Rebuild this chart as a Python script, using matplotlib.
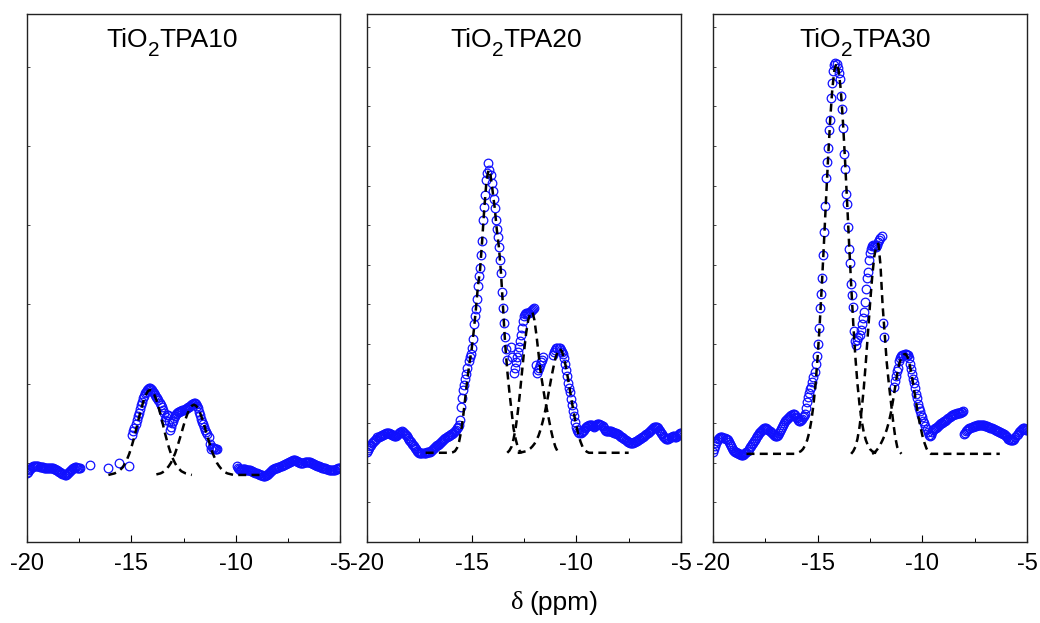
import numpy as np
import matplotlib
matplotlib.use("Agg")
import matplotlib.pyplot as plt
from matplotlib.transforms import blended_transform_factory, offset_copy

plt.rcParams["font.family"] = ["Liberation Sans", "DejaVu Sans"]

N = np.nan

# ---------------- data: chemical shift grid ----------------
shift_start = -20.0
shift_step = 0.05
fit_step = 0.1

title_parts = [("TiO", "2", "TPA10"), ("TiO", "2", "TPA20"), ("TiO", "2", "TPA30")]
xticks = [-20, -15, -10, -5]
xlabel_delta = "δ"
xlabel_unit = "(ppm)"

# measured spectra (a.u.), one value every 0.05 ppm from -20 to -5
tpa10 = [
    13.0, 13.3, 13.6, 13.9, 14.1, 14.2, 14.3, 14.3, 14.3, 14.3, 14.3, 14.3, 14.2, 14.2, 14.2, 14.2, 14.1, 14.1, 14.1, 14.1,
    14.1, 14.1, 14.0, 14.0, 14.0, 14.0, 13.9, 13.8, 13.7, 13.6, 13.5, 13.3, 13.2, 13.0, 12.9, 12.8, 12.7, 12.7, 12.8, 13.0,
    13.2, 13.4, 13.6, 13.8, 14.0, 14.1, 14.2, 14.2, 14.1, 14.0, 14.0, 14.0, N, N, N, N, N, N, N, N,
    14.6, N, N, N, N, N, N, N, N, N, N, N, N, N, N, N, N, N, 14.0, N,
    N, N, N, N, N, N, N, N, 15.0, N, N, N, N, N, N, N, N, N, 14.3, N,
    N, 20.3, 21.0, 21.5, 22.3, 23.1, 23.8, 24.5, 25.2, 25.9, 26.6, 27.2, 27.7, 28.2, 28.5, 28.8, 29.0, 29.1, 29.1, 28.9,
    28.7, 28.5, 28.2, 27.9, 27.5, 27.2, 26.8, 26.4, 26.0, 25.5, 25.0, 24.5, 23.1, 23.6, 24.0, 24.1, 23.0, 21.2, 21.8, 22.5,
    23.0, 23.5, 23.8, 24.2, 24.5, 24.6, 24.7, 24.8, 24.9, 25.0, 25.0, 25.1, 25.2, 25.3, 25.5, 25.6, 25.8, 25.9, 26.1, 26.2,
    26.3, 26.3, 26.1, 25.8, 25.3, 24.7, 24.0, 23.3, 22.8, 22.3, 21.8, 21.3, 20.9, 20.4, 19.8, 18.5, 17.7, 17.9, 17.8, 17.8,
    17.7, 17.7, 17.6, N, N, N, N, N, N, N, N, N, N, N, N, N, N, N, N, N,
    N, 14.4, 14.1, 13.9, 13.7, 13.7, 13.8, 13.9, 13.9, 13.8, 13.7, 13.7, 13.6, 13.6, 13.6, 13.5, 13.4, 13.3, 13.2, 13.1,
    13.0, 12.9, 12.8, 12.7, 12.6, 12.6, 12.5, 12.5, 12.5, 12.6, 12.7, 12.9, 13.1, 13.3, 13.5, 13.7, 13.8, 13.9, 14.0, 14.1,
    14.1, 14.2, 14.2, 14.3, 14.4, 14.5, 14.6, 14.7, 14.8, 14.9, 15.0, 15.1, 15.2, 15.3, 15.4, 15.5, 15.5, 15.5, 15.4, 15.3,
    15.2, 15.1, 15.0, 14.9, 14.9, 15.0, 15.1, 15.2, 15.2, 15.2, 15.1, 15.1, 15.0, 14.9, 14.8, 14.7, 14.6, 14.5, 14.4, 14.3,
    14.3, 14.2, 14.2, 14.1, 14.1, 14.0, 14.0, 13.9, 13.8, 13.7, 13.7, 13.6, 13.6, 13.6, 13.6, 13.7, 13.8, 13.9, 14.0, 14.0, 14.0,
]

tpa20 = [
    17.1, 17.4, 17.8, 18.1, 18.4, 18.7, 19.0, 19.2, 19.4, 19.6, 19.8, 19.9, 20.0, 20.1, 20.2, 20.3, 20.4, 20.5, 20.6, 20.6,
    20.6, 20.6, 20.5, 20.4, 20.3, 20.2, 20.1, 20.0, 20.1, 20.3, 20.5, 20.7, 20.9, 21.0, 20.9, 20.7, 20.5, 20.2, 20.0, 19.7,
    19.4, 19.1, 18.9, 18.6, 18.4, 18.1, 17.8, 17.6, 17.3, 17.1, 16.9, 16.8, 16.8, 16.8, 16.8, 16.9, 16.9, 17.0, 17.0, 17.1,
    17.1, 17.3, 17.5, 17.6, 17.8, 17.9, 18.1, 18.3, 18.4, 18.6, 18.8, 19.0, 19.2, 19.4, 19.5, 19.7, 19.8, 20.0, 20.1, 20.2,
    20.4, 20.5, 20.6, 20.8, 21.0, 21.2, 21.5, 21.8, 22.2, 23.2, 25.5, 27.2, 28.8, 29.8, 30.8, 31.8, 33.0, 34.2, 35.0, 35.7,
    36.8, 38.5, 41.2, 42.8, 44.2, 46.0, 48.5, 50.3, 51.8, 54.4, 57.0, 61.0, 63.5, 65.8, 68.6, 69.8, 71.8, 70.5, 69.5, 67.9,
    66.5, 65.0, 63.3, 61.0, 59.2, 57.8, 55.9, 53.5, 51.0, 47.3, 44.3, 41.5, 38.8, 36.5, 34.5, N, N, N, 37.0, 35.0,
    32.0, 33.0, 34.0, 35.0, 36.0, 37.0, 38.0, 39.2, 40.6, 41.8, 42.8, 43.2, 43.3, 43.3, 43.3, 43.4, 43.5, 43.7, 43.9, 44.2,
    44.4, 33.5, 32.0, 32.5, 33.0, 33.5, 34.0, 34.5, 35.1, N, N, N, N, N, N, N, N, N, 35.4, 35.9,
    36.4, 36.7, 36.8, 36.8, 36.7, 36.4, 36.0, 35.6, 34.8, 33.8, 32.6, 31.4, 30.2, 29.2, 28.4, 27.0, 26.0, 24.8, 23.8, 22.8,
    21.8, 21.2, 20.8, 20.6, 20.7, 20.9, 21.1, 21.3, 21.5, 21.7, 21.9, 22.0, 22.1, 22.2, 22.2, 22.1, 21.9, 21.8, 21.9, 22.1,
    22.3, 22.4, 22.3, 22.2, 22.1, 21.9, 21.6, 21.3, 21.1, 21.0, 21.0, 21.0, 21.1, 21.0, 20.9, 20.8, 20.7, 20.6, 20.6, 20.5,
    20.4, 20.3, 20.1, 19.9, 19.8, 19.7, 19.6, 19.4, 19.2, 19.0, 18.9, 18.8, 18.7, 18.7, 18.8, 18.9, 19.0, 19.1, 19.2, 19.3,
    19.5, 19.6, 19.7, 19.8, 19.9, 20.0, 20.2, 20.4, 20.6, 20.8, 21.0, 21.2, 21.4, 21.6, 21.7, 21.8, 21.8, 21.7, 21.5, 21.2,
    21.0, 20.7, 20.4, 20.1, 19.9, 19.7, 19.6, 19.6, 19.6, 19.7, 19.8, 19.9, 20.0, 20.0, 19.9, 19.9, 20.0, 20.2, 20.4, 20.6, 20.7,
]

tpa30 = [
    17.0, 17.6, 18.2, 18.8, 19.2, 19.5, 19.7, 19.8, 19.8, 19.8, 19.7, 19.7, 19.6, 19.5, 19.3, 19.0, 18.6, 18.2, 17.8, 17.5,
    17.3, 17.1, 17.0, 16.9, 16.8, 16.7, 16.6, 16.5, 16.5, 16.5, 16.6, 16.8, 17.0, 17.3, 17.6, 17.9, 18.2, 18.5, 18.8, 19.1,
    19.4, 19.7, 20.0, 20.3, 20.6, 20.8, 21.0, 21.2, 21.4, 21.5, 21.5, 21.5, 21.4, 21.2, 21.0, 20.8, 20.6, 20.4, 20.2, 20.1,
    20.1, 20.1, 20.3, 20.6, 21.0, 21.4, 21.8, 22.2, 22.6, 22.9, 23.1, 23.3, 23.5, 23.7, 23.9, 24.1, 24.2, 24.2, 24.0, 23.7,
    23.4, 23.2, 23.0, 23.0, 23.1, 23.3, 23.6, 23.9, 24.3, 25.4, 26.5, 27.4, 28.2, 28.9, 29.4, 30.3, 31.2, 32.2, 33.8, 35.3,
    37.5, 40.5, 44.3, 47.0, 50.0, 54.4, 58.8, 63.6, 69.0, 72.0, 74.6, 78.0, 80.0, 84.0, 86.9, 89.2, 90.3, 90.7, 90.6, 89.8,
    88.8, 87.6, 84.5, 82.0, 78.5, 73.5, 70.6, 66.0, 64.1, 59.6, 55.5, 52.8, 48.9, 46.8, 44.5, 40.0, 38.0, 37.4, 38.2, 38.8,
    39.2, 40.2, 41.3, 42.5, 43.6, 45.5, 48.0, 50.0, 51.1, 53.5, 54.8, 55.5, 56.0, 56.2, 56.1, 56.0, 55.9, 56.3, 56.8, 57.2,
    57.6, 58.0, 41.4, 38.9, N, N, N, N, N, N, N, N, N, 29.4, 30.5, 31.5, 32.3, 33.0, 34.2, 34.8,
    35.2, 35.4, 35.5, 35.6, 35.6, 35.5, 35.4, 34.8, 33.8, 32.8, 31.8, 30.9, 30.2, 29.1, 28.1, 27.2, 26.2, 25.4, 24.8, 24.1,
    23.6, 23.0, 22.5, 21.9, 21.4, 20.9, 20.3, 20.0, 20.3, 20.8, 21.2, 21.4, 21.5, 21.6, 21.7, 21.9, 22.1, 22.3, 22.5, 22.6,
    22.8, 22.9, 23.0, 23.1, 23.3, 23.5, 23.7, 23.9, 24.0, 24.1, 24.2, 24.3, 24.3, 24.4, 24.4, 24.4, 24.5, 24.6, 24.7, 24.8,
    20.4, 20.7, 21.0, 21.2, 21.4, 21.5, 21.6, 21.7, 21.8, 21.9, 22.0, 22.0, 22.1, 22.1, 22.2, 22.2, 22.2, 22.2, 22.2, 22.1,
    22.0, 21.9, 21.9, 21.8, 21.7, 21.6, 21.6, 21.5, 21.4, 21.3, 21.2, 21.1, 21.0, 20.9, 20.8, 20.7, 20.6, 20.5, 20.4, 20.2,
    20.0, 19.8, 19.6, 19.5, 19.4, 19.3, 19.3, 19.4, 19.6, 19.9, 20.2, 20.5, 20.8, 21.0, 21.2, 21.4, 21.5, 21.5, 21.4, 21.3, 21.2,
]

# fitted components: (first shift, values every 0.1 ppm)
fits10 = [
    (-16.1, [12.7, 12.8, 12.9, 13.0, 13.2, 13.4, 13.8, 14.2, 14.9, 15.7, 16.7, 17.9, 19.3, 20.8, 22.5, 24.1, 25.6,
             26.9, 27.9, 28.6, 28.8, 28.6, 27.9, 26.9, 25.6, 24.1, 22.5, 20.8, 19.3, 17.9, 16.7, 15.7, 14.9, 14.2,
             13.8, 13.4, 13.2, 13.0, 12.9, 12.8, 12.7]),
    (-13.8, [12.8, 12.9, 13.0, 13.2, 13.5, 13.9, 14.4, 15.0, 15.9, 16.8, 18.0, 19.3, 20.6, 22.0, 23.3, 24.4, 25.3,
             25.8, 26.0, 25.8, 25.3, 24.4, 23.3, 22.0, 20.6, 19.3, 18.0, 16.8, 15.9, 15.0, 14.4, 13.9, 13.5, 13.2,
             13.0, 12.9, 12.8, 12.7, 12.7, 12.7, 12.7, 12.7, 12.7, 12.7, 12.7, 12.7, 12.7, 12.7, 12.7, 12.7, 12.7, 12.7]),
]
fits20 = [
    (-17.2, [16.9, 16.9, 16.9, 16.9, 16.9, 16.9, 16.9, 16.9, 16.9, 16.9, 16.9, 16.9, 16.9, 17.0, 17.2,
             17.8, 19.0, 21.0, 24.0, 27.5, 31.0, 34.0, 36.5, 40.0, 44.0, 48.5, 51.5, 57.0, 63.0, 68.0, 70.5,
             69.5, 66.5, 63.3, 59.2, 55.9, 51.0, 44.3, 37.5, 32.5, 28.5, 25.0, 21.5, 19.5, 18.0, 17.2, 16.9]),
    (-13.3, [16.9, 17.3, 18.0, 19.5, 21.5, 24.5, 28.0, 32.0, 36.0, 39.5, 42.0, 43.3, 43.6, 42.0, 39.0, 35.5,
             32.0, 29.5, 27.0, 25.0, 23.0, 21.0, 19.3, 18.0, 17.2, 16.9]),
    (-12.8, [16.9, 16.9, 17.0, 17.1, 17.2, 17.4, 17.7, 18.1, 18.6, 19.3, 20.2, 21.4, 22.9, 24.6, 26.6, 28.8,
             31.0, 33.0, 34.8, 36.0, 36.6, 36.2, 35.0, 33.2, 31.0, 28.6, 26.2, 24.0, 22.0, 20.3, 19.0, 18.0,
             17.4, 17.1, 16.9, 16.9, 16.9, 16.9, 16.9, 16.9, 16.9, 16.9, 16.9, 16.9, 16.9, 16.9, 16.9, 16.9,
             16.9, 16.9, 16.9, 16.9, 16.9, 16.9]),
]
fits30 = [
    (-18.4, [16.7, 16.7, 16.7, 16.7, 16.7, 16.7, 16.7, 16.7, 16.7, 16.7, 16.7, 16.7, 16.7, 16.7, 16.7, 16.7,
             16.7, 16.7, 16.7, 16.7, 16.7, 16.7, 16.7, 16.7,
             16.85, 17.0, 17.2, 17.6, 18.3, 19.3, 20.8, 23.0, 26.0, 30.0, 35.1, 41.4, 48.7, 56.6, 64.9, 72.9,
             80.1, 85.8, 89.4, 90.7, 89.4, 85.8, 80.1, 72.9, 64.9, 56.6, 48.7, 41.4, 35.1, 30.0, 26.0, 23.0,
             20.8, 19.3, 18.3, 17.6, 17.2, 17.0, 16.85]),
    (-13.4, [16.7, 17.2, 18.0, 19.5, 21.8, 25.0, 29.0, 34.0, 39.5, 45.0, 50.0, 54.0, 56.0, 56.5, 52.5, 45.0,
             39.5, 34.0, 30.0, 26.5, 23.0, 20.0, 18.0, 17.2, 16.7]),
    (-12.4, [16.7, 16.9, 17.3, 17.8, 18.5, 19.3, 20.2, 21.3, 22.7, 24.5, 26.8, 29.3, 31.8, 33.8, 35.0, 35.5,
             35.6, 35.0, 33.5, 31.5, 29.0, 26.5, 24.0, 22.0, 20.2, 18.8, 17.7, 17.0, 16.7,
             16.7, 16.7, 16.7, 16.7, 16.7, 16.7, 16.7, 16.7, 16.7, 16.7, 16.7, 16.7, 16.7, 16.7, 16.7, 16.7,
             16.7, 16.7, 16.7, 16.7, 16.7, 16.7, 16.7, 16.7, 16.7, 16.7, 16.7, 16.7, 16.7, 16.7, 16.7, 16.7, 16.7]),
]

spectra = [tpa10, tpa20, tpa30]
fits = [fits10, fits20, fits30]
title_center = [-13.05, -12.88, -12.75]

# ---------------- layout (pixels of a 1040x623 canvas) ----------------
W, H = 1040, 623
panel_px = [(27, 340), (367, 681), (713, 1027)]
top_px, bottom_px = 14, 542

fig = plt.figure(figsize=(W / 100, H / 100), dpi=100)
renderer = fig.canvas.get_renderer()

for k, (l, r) in enumerate(panel_px):
    ax = fig.add_axes([l / W, (H - bottom_px) / H, (r - l) / W, (bottom_px - top_px) / H])
    y = np.array(spectra[k], dtype=float)
    x = shift_start + shift_step * np.arange(len(y))
    ax.plot(x, y, linestyle="none", marker="o", ms=6.2, mfc="none",
            mec="#1010ff", mew=0.9, zorder=2)
    for start, vals in fits[k]:
        xf = start + fit_step * np.arange(len(vals))
        ax.plot(xf, vals, color="black", lw=1.8, ls=(0, (3.2, 2.1)), zorder=3)
    ax.set_xlim(-20, -5)
    ax.set_ylim(0, 100)
    ax.set_xticks(xticks)
    ax.set_xticklabels([str(t) for t in xticks])
    ax.set_xticks([-17.5, -12.5, -7.5], minor=True)
    step = 15 if k == 0 else 7.5
    ax.set_yticks(np.arange(step, 100, step))
    ax.set_yticklabels([])
    ax.tick_params(axis="x", which="major", direction="in", length=5, width=0.8,
                   labelsize=17, pad=8)
    ax.tick_params(axis="x", which="minor", direction="in", length=3, width=0.7)
    ax.tick_params(axis="y", which="major", direction="in", length=2, width=0.5)
    for s in ax.spines.values():
        s.set_linewidth(1.0)
        s.set_color("#222222")

    # title "TiO2TPAxx" with a low subscript, assembled from three pieces
    tr = blended_transform_factory(ax.transData, ax.transAxes)
    a, sub, b = title_parts[k]
    t1 = ax.text(0, 0.9375, a, transform=tr, fontsize=19, ha="left", va="baseline")
    t2 = ax.text(0, 0.9375, sub, transform=tr, fontsize=15, ha="left", va="baseline")
    t3 = ax.text(0, 0.9375, b, transform=tr, fontsize=19, ha="left", va="baseline")
    w1 = t1.get_window_extent(renderer).width
    w2 = t2.get_window_extent(renderer).width
    w3 = t3.get_window_extent(renderer).width
    total = w1 + w2 + w3
    for t, dx, dy in ((t1, -total / 2, 0), (t2, -total / 2 + w1, -9),
                      (t3, -total / 2 + w1 + w2, 0)):
        t.set_x(title_center[k])
        t.set_transform(offset_copy(tr, fig=fig, x=dx, y=dy, units="dots"))

fig.text(511 / W, 1 - 603 / H, xlabel_delta, family="Liberation Serif",
         fontsize=19, ha="left", va="center")
fig.text(529 / W, 1 - 603 / H, xlabel_unit, fontsize=19, ha="left", va="center")

fig.savefig("out.png", dpi=100)
